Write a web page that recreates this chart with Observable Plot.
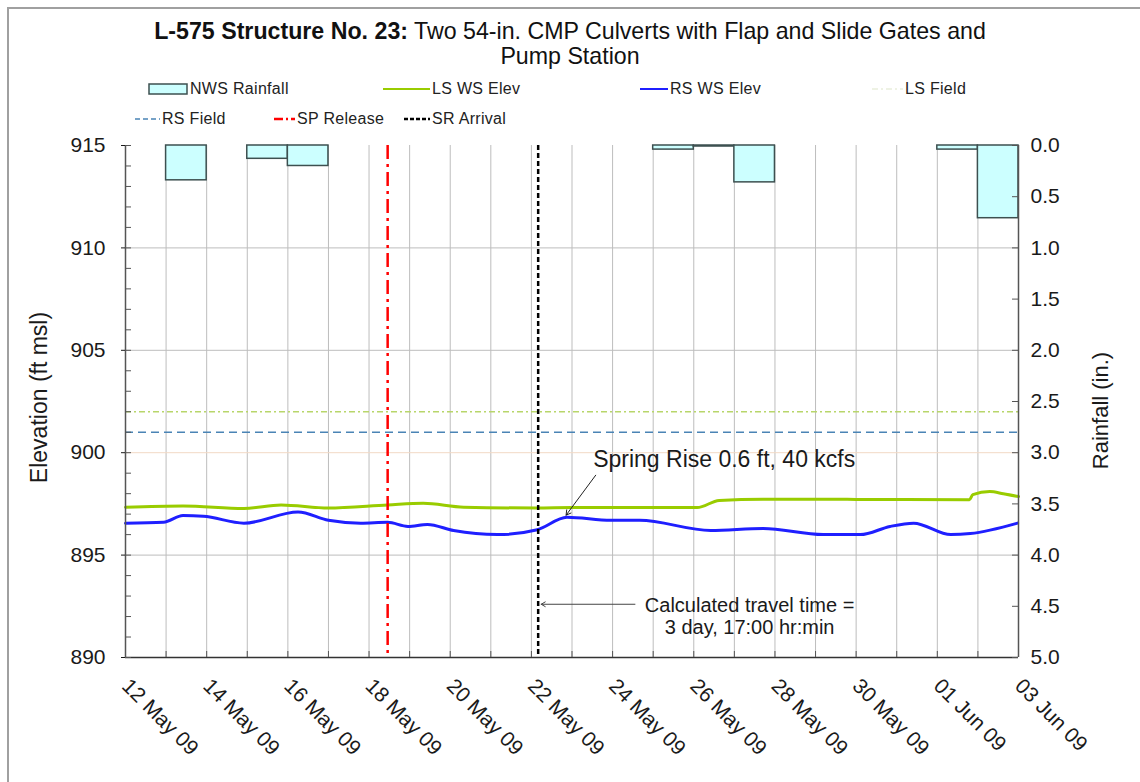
<!DOCTYPE html>
<html><head><meta charset="utf-8">
<script src="https://cdn.jsdelivr.net/npm/d3@7"></script>
<script src="https://cdn.jsdelivr.net/npm/@observablehq/plot@0.6"></script>
<style>
html,body{margin:0;padding:0;background:#fff;width:1140px;height:782px;overflow:hidden;font-family:"Liberation Sans",Arial,sans-serif;}
#frame{position:absolute;left:7px;top:7px;width:1200px;height:850px;border-left:2px solid #a0a0a0;border-top:2px solid #a0a0a0;box-sizing:border-box;}
#title{position:absolute;left:0;width:1140px;top:19px;text-align:center;font-size:23.2px;line-height:25px;color:#111;}
.lg{position:absolute;font-size:16px;color:#222;white-space:nowrap;line-height:18px;letter-spacing:0.3px;}
#chart{position:absolute;left:0;top:130px;}
</style></head><body>
<div id="frame"></div>
<div id="title"><b>L-575 Structure No. 23:</b> Two 54-in. CMP Culverts with Flap and Slide Gates and<br>Pump Station</div>
<div id="legend"></div>
<div id="chart"></div>
<script>
// ---- data ----
const rainDates = ["2009-05-13","2009-05-15","2009-05-16","2009-05-25","2009-05-26","2009-05-27","2009-06-01","2009-06-02"];
const rainInches = [0.34, 0.13, 0.20, 0.04, 0.01, 0.36, 0.04, 0.71];

const lsTimes = ["2009-05-12T00:00","2009-05-13T10:00","2009-05-14T22:00","2009-05-15T20:00","2009-05-17T00:00","2009-05-18T11:00","2009-05-19T08:00","2009-05-20T08:00","2009-05-22T03:00","2009-05-23T00:00","2009-05-26T02:00","2009-05-26T15:00","2009-05-27T17:00","2009-05-30T00:00","2009-06-01T19:00","2009-06-01T21:00","2009-06-02T07:00","2009-06-02T15:00","2009-06-03T00:00"];
const lsElev = [897.34,897.40,897.28,897.45,897.30,897.45,897.53,897.34,897.30,897.32,897.32,897.67,897.73,897.72,897.70,897.95,898.10,898.00,897.86];

const rsTimes = ["2009-05-12T00:00","2009-05-12T22:30","2009-05-13T10:00","2009-05-13T22:00","2009-05-14T22:00","2009-05-16T06:00","2009-05-17T00:00","2009-05-17T19:00","2009-05-18T11:00","2009-05-18T23:00","2009-05-19T10:30","2009-05-20T02:00","2009-05-21T04:00","2009-05-22T03:30","2009-05-22T21:00","2009-05-23T23:00","2009-05-24T16:00","2009-05-26T10:00","2009-05-27T17:00","2009-05-29T04:30","2009-05-30T02:30","2009-05-30T20:00","2009-05-31T10:00","2009-06-01T08:00","2009-06-01T19:30","2009-06-02T23:30"];
const rsElev = [896.56,896.60,896.93,896.90,896.56,897.10,896.70,896.56,896.60,896.40,896.50,896.20,896.00,896.24,896.85,896.70,896.70,896.20,896.30,896.00,896.00,896.40,896.56,896.00,896.05,896.56];

const lsField = 902.0;
const rsField = 901.0;
const spRelease = "2009-05-18T11:00";
const srArrival = "2009-05-22T04:00";

const elevTicks = [890, 895, 900, 905, 910, 915];
const rainTicks = [0.0, 0.5, 1.0, 1.5, 2.0, 2.5, 3.0, 3.5, 4.0, 4.5, 5.0];

const springNote = {t: "2009-05-23T12:30", y: 899.67, text: "Spring Rise 0.6 ft, 40 kcfs", fromT: "2009-05-23T14:00", fromY: 898.9, toT: "2009-05-22T20:30", toY: 896.95};
const travelNote = {t: "2009-05-27T09:00", y: 892.05, text: "Calculated travel time =\n3 day, 17:00 hr:min", fromT: "2009-05-24T15:00", fromY: 892.6};

// ---- helpers ----
const parse = d3.utcParse("%Y-%m-%dT%H:%M");
const start = parse("2009-05-12T00:00"), end = parse("2009-06-03T00:00");
const rainToElev = r => 915 - r * 5;   // 0..5 in. mapped (reversed) onto 915..890 ft
const elevToRain = e => (915 - e) / 5;

const rain = rainDates.map((d, i) => {const s = parse(d + "T00:00"); return {s, e: d3.utcDay.offset(s, 1), r: rainInches[i]};});
const ls = lsTimes.map((t, i) => ({t: parse(t), v: lsElev[i]}));
const rs = rsTimes.map((t, i) => ({t: parse(t), v: rsElev[i]}));
const days = d3.utcDay.range(start, d3.utcDay.offset(end, 1));
const labelDays = d3.utcDay.range(start, d3.utcDay.offset(end, 1), 2);

const W = 1140, H = 652, mT = 15, mB = 125, mL = 125, mR = 122;
const pw = W - mL - mR, ph = H - mT - mB;

const chart = Plot.plot({
  width: W, height: H, marginTop: mT, marginBottom: mB, marginLeft: mL, marginRight: mR,
  style: {fontFamily: '"Liberation Sans", Arial, sans-serif', fontSize: "21px", color: "#1a1a1a", background: "transparent", overflow: "visible"},
  x: {type: "utc", domain: [start, end]},
  y: {domain: [890, 915]},
  marks: [
    Plot.gridX(days, {stroke: "#bdbdbd", strokeOpacity: 1}),
    Plot.gridY([895, 905, 910], {stroke: "#bdbdbd", strokeOpacity: 1}),
    Plot.gridY([900], {stroke: "#f2d9c6", strokeOpacity: 1}),
    Plot.rect(rain, {x1: "s", x2: "e", y1: () => 915, y2: d => rainToElev(d.r), fill: "#ccffff", stroke: "#3d5050", strokeWidth: 1.5}),
    Plot.ruleY([lsField], {stroke: "#b8d66a", strokeWidth: 1.5, strokeDasharray: "6,3,2,3"}),
    Plot.ruleY([rsField], {stroke: "#4a84b5", strokeWidth: 1.5, strokeDasharray: "8,5"}),
    Plot.line(ls, {x: "t", y: "v", stroke: "#99cc00", strokeWidth: 3, curve: "monotone-x"}),
    Plot.line(rs, {x: "t", y: "v", stroke: "#1f1fff", strokeWidth: 3, curve: "monotone-x"}),
    Plot.ruleX([parse(spRelease)], {stroke: "#ff0000", strokeWidth: 2.5, strokeDasharray: "14,5,3,5"}),
    Plot.ruleX([parse(srArrival)], {stroke: "#000000", strokeWidth: 2.5, strokeDasharray: "5,3"}),
    // axis lines and ticks
    Plot.ruleX([start], {stroke: "#555", strokeWidth: 1.5}),
    Plot.ruleX([end], {stroke: "#555", strokeWidth: 1.5}),
    Plot.ruleY([890], {stroke: "#333", strokeWidth: 1.5}),
    Plot.tickY(d3.range(890, 916, 1), {y: d => d, stroke: "#555", insetRight: pw - 6}),
    Plot.tickY(rainTicks, {y: d => rainToElev(d), stroke: "#555", insetLeft: pw - 6}),
    Plot.tickX(days, {x: d => d, stroke: "#555", insetTop: ph - 6}),
    Plot.axisY({ticks: elevTicks, tickSize: 4, tickPadding: 16, label: null, fontSize: 21}),
    Plot.axisY({anchor: "right", ticks: rainTicks.map(rainToElev), tickFormat: e => elevToRain(e).toFixed(1), tickSize: 0, tickPadding: 12, label: null, fontSize: 21}),
    Plot.axisX({ticks: labelDays, tickFormat: d3.utcFormat("%d %b %y"), tickRotate: 45, tickSize: 0, tickPadding: 25, label: null, fontSize: 21}),
    Plot.text(["Elevation (ft msl)"], {text: d => d, frameAnchor: "left", textAnchor: "middle", dx: -86, dy: -4, rotate: -90, fontSize: 23}),
    Plot.text(["Rainfall (in.)"], {text: d => d, frameAnchor: "right", textAnchor: "middle", dx: 82, dy: 9, rotate: -90, fontSize: 22}),
    // annotations
    Plot.arrow([springNote], {x1: d => parse(d.fromT), y1: "fromY", x2: d => parse(d.toT), y2: "toY", stroke: "#222", strokeWidth: 1, headLength: 8}),
    Plot.text([springNote], {x: d => parse(d.t), y: "y", text: "text", textAnchor: "start", fontSize: 23}),
    Plot.arrow([travelNote], {x1: d => parse(d.fromT), y1: "fromY", x2: () => parse(srArrival), y2: "fromY", stroke: "#444", strokeWidth: 1, headLength: 7, inset: 3}),
    Plot.text([travelNote], {x: d => parse(d.t), y: "y", text: "text", fontSize: 20, lineHeight: 1.1})
  ]
});
document.getElementById("chart").appendChild(chart);

// ---- legend ----
const legendItems = [
  {name: "NWS Rainfall", kind: "box", left: 148, top: 89, textLeft: 190},
  {name: "LS WS Elev", kind: "line", color: "#99cc00", dash: null, w: 2, left: 383, top: 89, textLeft: 432},
  {name: "RS WS Elev", kind: "line", color: "#1f1fff", dash: null, w: 2, left: 640, top: 89, textLeft: 670},
  {name: "LS Field", kind: "line", color: "#eef2e4", dash: "6,3,2,3", w: 2, left: 872, top: 89, textLeft: 905},
  {name: "RS Field", kind: "line", color: "#4a84b5", dash: "5,3", w: 1.5, left: 135, top: 119, textLeft: 162},
  {name: "SP Release", kind: "line", color: "#ff0000", dash: "9,3,2,3", w: 2.5, left: 274, top: 119, textLeft: 297},
  {name: "SR Arrival", kind: "line", color: "#000000", dash: "4,2", w: 2.5, left: 404, top: 119, textLeft: 432}
];
const lg = document.getElementById("legend");
for (const it of legendItems) {
  const swW = it.textLeft - it.left - 2;
  const sw = document.createElementNS("http://www.w3.org/2000/svg", "svg");
  sw.setAttribute("width", swW); sw.setAttribute("height", 14);
  sw.style.position = "absolute"; sw.style.left = it.left + "px"; sw.style.top = (it.top - 7) + "px";
  if (it.kind === "box") {
    sw.innerHTML = `<rect x="1" y="2" width="${swW - 2}" height="10" fill="#ccffff" stroke="#3d5050" stroke-width="1.5"/>`;
  } else {
    sw.innerHTML = `<line x1="0" x2="${swW}" y1="7" y2="7" stroke="${it.color}" stroke-width="${it.w}" ${it.dash ? `stroke-dasharray="${it.dash}"` : ""}/>`;
  }
  lg.appendChild(sw);
  const t = document.createElement("div");
  t.className = "lg"; t.textContent = it.name;
  t.style.left = it.textLeft + "px"; t.style.top = (it.top - 9) + "px";
  lg.appendChild(t);
}
</script>
</body></html>
